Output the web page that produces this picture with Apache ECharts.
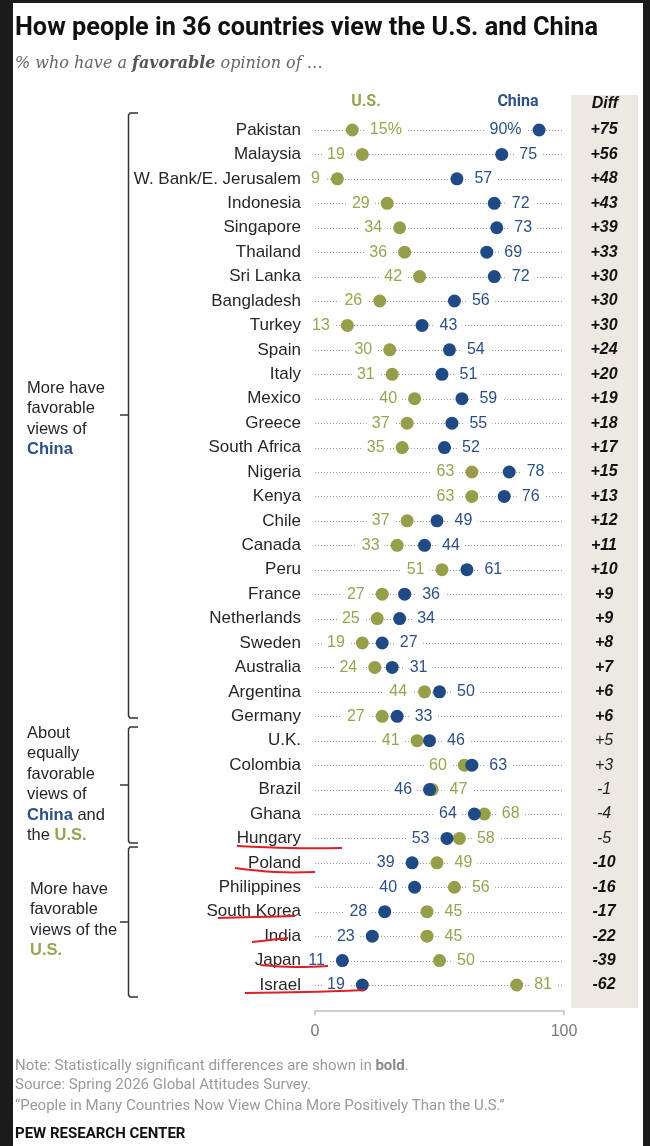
<!DOCTYPE html>
<html>
<head>
<meta charset="utf-8">
<title>How people in 36 countries view the U.S. and China</title>
<script src="https://cdn.jsdelivr.net/npm/echarts@6/dist/echarts.min.js"></script>
<style>
  html, body { margin: 0; padding: 0; background: #1b1b1b; }
  #main { width: 650px; height: 1146px; }
</style>
</head>
<body>
<div id="main"></div>
<script>
// rows, top to bottom
var countries = ['Pakistan', 'Malaysia', 'W. Bank/E. Jerusalem', 'Indonesia', 'Singapore', 'Thailand',
    'Sri Lanka', 'Bangladesh', 'Turkey', 'Spain', 'Italy', 'Mexico', 'Greece', 'South Africa',
    'Nigeria', 'Kenya', 'Chile', 'Canada', 'Peru', 'France', 'Netherlands', 'Sweden', 'Australia',
    'Argentina', 'Germany', 'U.K.', 'Colombia', 'Brazil', 'Ghana', 'Hungary', 'Poland',
    'Philippines', 'South Korea', 'India', 'Japan', 'Israel'];
// % favorable of the U.S.
var usFav = [15, 19, 9, 29, 34, 36, 42, 26, 13, 30, 31, 40, 37, 35, 63, 63, 37, 33, 51, 27, 25, 19,
    24, 44, 27, 41, 60, 47, 68, 58, 49, 56, 45, 45, 50, 81];
// % favorable of China
var chinaFav = [90, 75, 57, 72, 73, 69, 72, 56, 43, 54, 51, 59, 55, 52, 78, 76, 49, 44, 61, 36, 34, 27,
    31, 50, 33, 46, 63, 46, 64, 53, 39, 40, 28, 23, 11, 19];
// difference shown in bold when significant
var significant = [true, true, true, true, true, true, true, true, true, true, true, true, true, true,
    true, true, true, true, true, true, true, true, true, true, true, false, false, false, false, false,
    true, true, true, true, true, true];
var xTicks = [0, 100];

var OLIVE = '#969e49';
var OLIVE_TXT = '#99a350';
var NAVY = '#1f4a85';
var NAVY_TXT = '#2d5088';
var SANS = 'Liberation Sans';

var chart = echarts.init(document.getElementById('main'));

// lower value gets its label on the left, higher on the right (Pakistan is drawn inside)
function points(vals, other) {
    return vals.map(function (v, i) {
        var pos = v < other[i] ? 'left' : 'right';
        if (i === 0) pos = pos === 'left' ? 'right' : 'left';
        return { value: [v, i], label: { position: pos } };
    });
}

function dotSeries(name, vals, other, color, txtColor, z) {
    return {
        name: name,
        type: 'scatter',
        z: z,
        symbolSize: 13,
        itemStyle: { color: color, opacity: 1 },
        data: points(vals, other),
        label: {
            show: true,
            distance: 6,
            color: txtColor,
            fontFamily: SANS,
            fontSize: 16,
            backgroundColor: '#fff',
            padding: [1, 5],
            formatter: function (p) {
                return p.dataIndex === 0 ? p.value[0] + '%' : '' + p.value[0];
            }
        },
        emphasis: { disabled: true }
    };
}

function bracket(top, bottom, mid) {
    return [{
        type: 'polyline',
        shape: { points: [[138, top], [130, top], [128.5, top + 2], [128.5, bottom - 2], [130, bottom], [138, bottom]] },
        style: { stroke: '#333', lineWidth: 1.5, fill: null }
    }, {
        type: 'line',
        shape: { x1: 120, y1: mid, x2: 128.5, y2: mid },
        style: { stroke: '#333', lineWidth: 1.5 }
    }];
}

function sideText(x, top, text) {
    return {
        type: 'text', x: x, y: top,
        style: {
            text: text, fontFamily: SANS, fontSize: 16.5, fill: '#262626', lineHeight: 20.5,
            rich: {
                c: { fontFamily: SANS, fontSize: 16.5, fontWeight: 'bold', fill: NAVY_TXT, lineHeight: 20.5 },
                u: { fontFamily: SANS, fontSize: 16.5, fontWeight: 'bold', fill: OLIVE_TXT, lineHeight: 20.5 }
            }
        }
    };
}

function redMark(pts) {
    return { type: 'polyline', z: 100, shape: { points: pts, smooth: 0.4 }, style: { stroke: '#dd2027', lineWidth: 2, fill: null } };
}

var graphics = [
    { type: 'rect', z: -10, shape: { x: 13, y: 3, width: 630, height: 1143 }, style: { fill: '#fff' } },
    { type: 'rect', z: -9, shape: { x: 571, y: 95, width: 67, height: 913 }, style: { fill: '#ece9e3' } },
    {
        type: 'text', x: 15, y: 29,
        style: { text: 'How people in 36 countries view the U.S. and China', fontFamily: 'Roboto', fontWeight: 'bold', fontSize: 25.3, fill: '#111', textVerticalAlign: 'middle' }
    },
    {
        type: 'text', x: 15, y: 64,
        style: {
            text: '% who have a {b|favorable} opinion of \u2026',
            fontFamily: 'DejaVu Serif', fontStyle: 'italic', fontSize: 16, fill: '#666', textVerticalAlign: 'middle',
            rich: { b: { fontFamily: 'DejaVu Serif', fontStyle: 'italic', fontWeight: 'bold', fontSize: 16, fill: '#555' } }
        }
    },
    { type: 'text', x: 366, y: 102, style: { text: 'U.S.', fontFamily: 'Roboto', fontWeight: 'bold', fontSize: 16, fill: OLIVE_TXT, textAlign: 'center', textVerticalAlign: 'middle' } },
    { type: 'text', x: 518, y: 102, style: { text: 'China', fontFamily: 'Roboto', fontWeight: 'bold', fontSize: 16, fill: NAVY_TXT, textAlign: 'center', textVerticalAlign: 'middle' } },
    { type: 'text', x: 605, y: 104, style: { text: 'Diff', fontFamily: SANS, fontWeight: 'bold', fontStyle: 'italic', fontSize: 16, fill: '#111', textAlign: 'center', textVerticalAlign: 'middle' } },
    sideText(27, 378, 'More have\nfavorable\nviews of\n{c|China}'),
    sideText(27, 723, 'About\nequally\nfavorable\nviews of\n{c|China} and\nthe {u|U.S.}'),
    sideText(30, 879, 'More have\nfavorable\nviews of the\n{u|U.S.}'),
    {
        type: 'text', x: 15, y: 1066,
        style: {
            text: 'Note: Statistically significant differences are shown in {b|bold}.',
            fontFamily: 'Roboto', fontSize: 15, fill: '#9a9a9a', textVerticalAlign: 'middle',
            rich: { b: { fontFamily: 'Roboto', fontSize: 15, fontWeight: 'bold', fill: '#8a8a8a' } }
        }
    },
    { type: 'text', x: 15, y: 1085, style: { text: 'Source: Spring 2026 Global Attitudes Survey.', fontFamily: 'Roboto', fontSize: 15, fill: '#9a9a9a', textVerticalAlign: 'middle' } },
    { type: 'text', x: 15, y: 1106, style: { text: '\u201cPeople in Many Countries Now View China More Positively Than the U.S.\u201d', fontFamily: 'Roboto', fontSize: 15, fill: '#9a9a9a', textVerticalAlign: 'middle' } },
    { type: 'text', x: 15, y: 1134, style: { text: 'PEW RESEARCH CENTER', fontFamily: 'Roboto', fontWeight: 'bold', fontSize: 15, fill: '#111', textVerticalAlign: 'middle' } },
    // hand-drawn red underlines
    redMark([[237, 846], [290, 848], [342, 848]]),
    redMark([[235, 868], [275, 872], [315, 872]]),
    redMark([[218, 918], [256, 917], [295, 916]]),
    redMark([[252, 942], [270, 940], [288, 938]]),
    redMark([[260, 965], [295, 967], [328, 966]]),
    redMark([[245, 993], [305, 992], [365, 990]])
];
graphics = graphics.concat(bracket(113, 718, 415), bracket(727, 843, 785), bracket(847, 997, 922));

var option = {
    backgroundColor: '#1b1b1b',
    animation: false,
    grid: { left: 315, right: 86, top: 117.8, bottom: 148.8, containLabel: false },
    xAxis: {
        type: 'value',
        min: xTicks[0],
        max: xTicks[1],
        interval: xTicks[1] - xTicks[0],
        offset: 14,
        axisLine: { show: true, lineStyle: { color: '#bdbdbd', width: 1.5 } },
        axisTick: { show: true, length: 4, lineStyle: { color: '#bdbdbd', width: 1.5 } },
        splitLine: { show: false },
        axisLabel: { color: '#777', fontFamily: SANS, fontSize: 16, margin: 12 }
    },
    yAxis: [{
        type: 'category',
        data: countries,
        inverse: true,
        axisLine: { show: false },
        axisTick: { show: false },
        axisLabel: { color: '#262626', fontFamily: SANS, fontSize: 17, margin: 14 }
    }, {
        type: 'category',
        data: countries,
        inverse: true,
        position: 'right',
        axisLine: { show: false },
        axisTick: { show: false },
        axisLabel: {
            margin: 40,
            align: 'center',
            formatter: function (value, idx) {
                var d = chinaFav[idx] - usFav[idx];
                var s = (d > 0 ? '+' : '') + d;
                return significant[idx] ? '{b|' + s + '}' : '{n|' + s + '}';
            },
            rich: {
                b: { fontFamily: SANS, fontSize: 16, fontWeight: 'bold', fontStyle: 'italic', color: '#111' },
                n: { fontFamily: SANS, fontSize: 16, fontStyle: 'italic', color: '#222' }
            }
        }
    }],
    graphic: { elements: graphics },
    series: [{
        type: 'custom',
        silent: true,
        z: 1,
        data: countries.map(function (c, i) { return [xTicks[0], xTicks[1], i]; }),
        encode: { x: [0, 1], y: 2 },
        renderItem: function (params, api) {
            var a = api.coord([api.value(0), api.value(2)]);
            var b = api.coord([api.value(1), api.value(2)]);
            return {
                type: 'line',
                shape: { x1: a[0], y1: Math.round(a[1]) + 0.5, x2: b[0], y2: Math.round(b[1]) + 0.5 },
                style: { stroke: '#9c9c9c', lineWidth: 1, lineDash: [1, 2] }
            };
        }
    },
        dotSeries('U.S.', usFav, chinaFav, OLIVE, OLIVE_TXT, 3),
        dotSeries('China', chinaFav, usFav, NAVY, NAVY_TXT, 4)
    ]
};
chart.setOption(option);
</script>
</body>
</html>
